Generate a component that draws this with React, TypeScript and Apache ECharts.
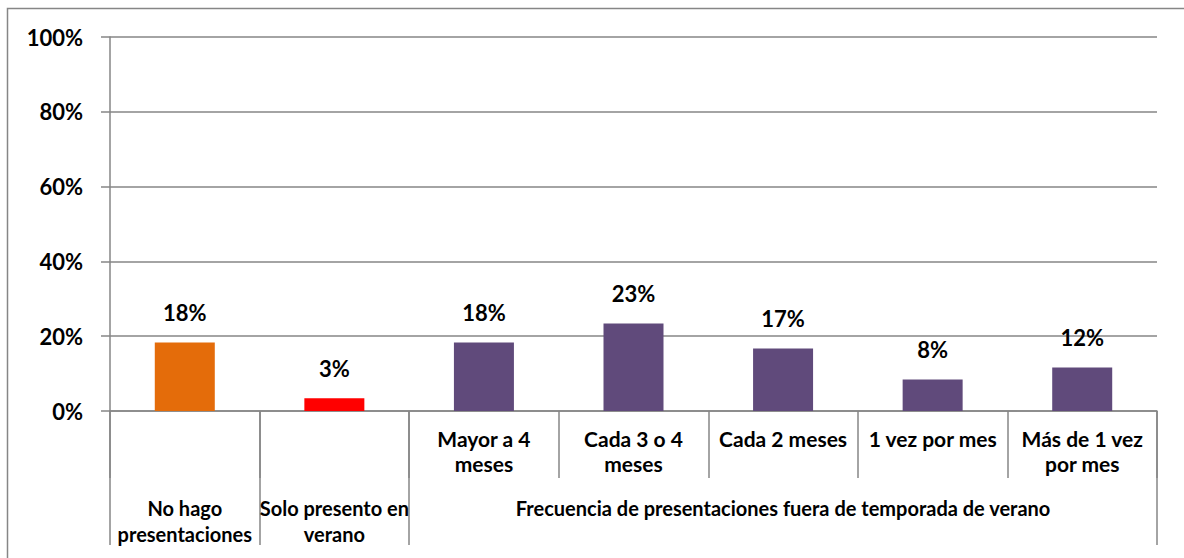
import React, { useEffect, useRef } from "react";
import * as echarts from "echarts";

const level1Labels = [
  "",
  "",
  "Mayor a 4\nmeses",
  "Cada 3 o 4\nmeses",
  "Cada 2 meses",
  "1 vez por mes",
  "Más de 1 vez\npor mes",
];
const level2Labels = [
  "No hago\npresentaciones",
  "Solo presento en\nverano",
  "",
  "",
  "Frecuencia de presentaciones fuera de temporada de verano",
  "",
  "",
];
const values = [18.3, 3.4, 18.3, 23.4, 16.7, 8.4, 11.6];
const barColors = ["#E46C0A", "#FF0000", "#604A7B", "#604A7B", "#604A7B", "#604A7B", "#604A7B"];
const yTicks = { min: 0, max: 100, interval: 20 };

const FONT = "Lato, 'Open Sans', sans-serif";
const GRAY = "#868686";

export default function App() {
  const ref = useRef<HTMLDivElement>(null);
  useEffect(() => {
    document.body.style.margin = "0";
    const chart = echarts.init(ref.current!, null, { renderer: "svg" });
    chart.setOption({
      animation: false,
      backgroundColor: "#fff",
      textStyle: { fontFamily: FONT },
      graphic: [
        {
          type: "rect",
          shape: { x: 7.5, y: 8.5, width: 1200, height: 600 },
          style: { fill: "none", stroke: GRAY, lineWidth: 1.5 },
          silent: true,
        },
      ],
      grid: {
        left: 110,
        right: 27,
        top: 37,
        bottom: 147,
        containLabel: false,
        outerBoundsMode: "none",
      },
      xAxis: [
        {
          type: "category",
          data: level1Labels,
          position: "bottom",
          axisLine: { show: true, lineStyle: { color: GRAY, width: 1.5 } },
          axisTick: { show: true, interval: 0, length: 67, lineStyle: { color: GRAY, width: 1.5 } },
          axisLabel: {
            interval: 0,
            margin: 15,
            fontSize: 21,
            lineHeight: 25,
            fontWeight: "bold",
            color: "#000",
            fontFamily: FONT,
          },
          splitLine: { show: false },
        },
        {
          type: "category",
          data: level2Labels,
          position: "bottom",
          axisLine: { show: false },
          axisTick: {
            show: true,
            interval: (i: number) => i <= 2,
            length: 134,
            lineStyle: { color: GRAY, width: 1.5 },
          },
          axisLabel: {
            interval: 0,
            margin: 84,
            fontSize: 20,
            lineHeight: 26,
            fontWeight: "bold",
            color: "#000",
            fontFamily: FONT,
          },
          splitLine: { show: false },
        },
      ],
      yAxis: {
        type: "value",
        min: yTicks.min,
        max: yTicks.max,
        interval: yTicks.interval,
        axisLine: { show: true, lineStyle: { color: GRAY, width: 1.5 } },
        axisTick: { show: true, length: 9, inside: false, lineStyle: { color: GRAY, width: 1.5 } },
        axisLabel: {
          formatter: "{value}%",
          margin: 27,
          fontSize: 22,
          fontWeight: "bold",
          color: "#000",
          fontFamily: FONT,
        },
        splitLine: { show: true, lineStyle: { color: GRAY, width: 1.5 } },
      },
      series: [
        {
          type: "bar",
          xAxisIndex: 0,
          barWidth: 60,
          data: values.map((v, i) => ({ value: v, itemStyle: { color: barColors[i] } })),
          label: {
            show: true,
            position: "top",
            distance: 19,
            formatter: (p: any) => Math.round(p.value) + "%",
            fontSize: 22,
            fontWeight: "bold",
            color: "#000",
            fontFamily: FONT,
          },
        },
      ],
    });
    return () => chart.dispose();
  }, []);
  return <div ref={ref} style={{ width: 1184, height: 558 }} />;
}
